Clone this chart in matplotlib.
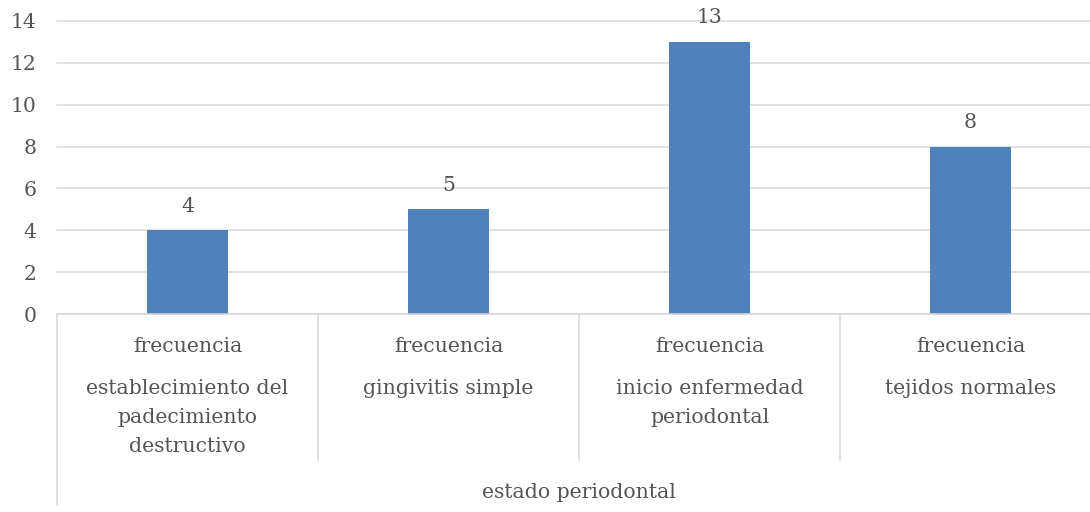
import matplotlib
matplotlib.use("Agg")
import matplotlib.pyplot as plt

categories = ["establecimiento del\npadecimiento\ndestructivo",
              "gingivitis simple",
              "inicio enfermedad\nperiodontal",
              "tejidos normales"]
series_name = "frecuencia"
group_name = "estado periodontal"
values = [4, 5, 13, 8]
y_ticks = [0, 2, 4, 6, 8, 10, 12, 14]

text_color = "#555555"
line_color = "#d9d9d9"
bar_color = "#4f81bd"
font = "DejaVu Serif"
fs = 14.7

W, H = 1090, 512
fig = plt.figure(figsize=(W / 100, H / 100), dpi=100)
x0, x1, y0, y1 = 57, 1101, 314, 21
ax = fig.add_axes([x0 / W, (H - y0) / H, (x1 - x0) / W, (y0 - y1) / H])
px = 14 / (y0 - y1)  # data units per pixel

xs = list(range(len(values)))
ax.bar(xs, values, width=0.314, color=bar_color, zorder=3)
ax.set_xlim(-0.5, len(values) - 0.5)
ax.set_ylim(0, 14)
ax.set_yticks(y_ticks)
ax.set_yticklabels([str(t) for t in y_ticks], fontfamily=font, fontsize=fs, color=text_color)
ax.tick_params(axis="y", length=0, pad=15)
ax.set_xticks([])
for s in ax.spines.values():
    s.set_visible(False)
ax.grid(axis="y", color=line_color, linewidth=1.1, zorder=0)
for gl in ax.get_ygridlines():
    gl.set_clip_on(False)

for x, v in zip(xs, values):
    ax.text(x, v + 24 * px, str(v), ha="center", va="center",
            fontfamily=font, fontsize=fs, color=text_color)

# multi-level category axis
ax.plot([-0.5, len(values) - 0.5], [0, 0], color=line_color, lw=1.1, clip_on=False, zorder=4)
ax.plot([-0.5, -0.5], [0, -(505 - y0) * px], color=line_color, lw=1.1, clip_on=False)
for i in range(1, len(values)):
    ax.plot([i - 0.5, i - 0.5], [0, -(460 - y0) * px], color=line_color, lw=1.1, clip_on=False)

for x, c in zip(xs, categories):
    ax.text(x, -(346 - y0) * px, series_name, ha="center", va="center",
            fontfamily=font, fontsize=fs, color=text_color)
    for k, line in enumerate(c.split("\n")):
        ax.text(x, -(389 + 28.5 * k - y0) * px, line, ha="center", va="center",
                fontfamily=font, fontsize=fs, color=text_color)

ax.text((len(values) - 1) / 2, -(492 - y0) * px, group_name, ha="center", va="center",
        fontfamily=font, fontsize=fs, color=text_color)

fig.savefig("out.png", dpi=100)
